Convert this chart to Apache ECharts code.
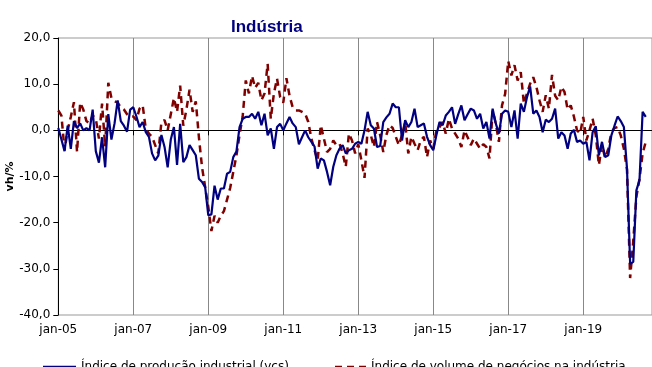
<!DOCTYPE html>
<html>
<head>
<meta charset="utf-8">
<script src="https://cdn.jsdelivr.net/npm/echarts@6/dist/echarts.min.js"></script>
<style>
  html, body { margin: 0; padding: 0; background: #fff; }
  #chart { width: 652px; height: 367px; }
</style>
</head>
<body>
<div id="chart"></div>
<script>
// meses (jan-05 ... nov-20), eixo em categorias
var monthNames = ['jan', 'fev', 'mar', 'abr', 'mai', 'jun', 'jul', 'ago', 'set', 'out', 'nov', 'dez'];
var firstYear = 2005;
var monthCount = 191;

var yTicks = [-40, -30, -20, -10, 0, 10, 20];

var seriesNames = ['Índice de produção industrial (vcs)', 'Índice de volume de negócios na indústria'];

// vh/% , jan-05 a set-20
var producao = [
  0.5, -2, -4.5, 1, -4, 2, 0.5, 1.5, 0, 0.5, 0, 4.5,
  -4.5, -7, -1.5, -8, 3.5, -2, 1.5, 6.5, 2, 1, -0.3, 4.5,
  5, 3, 0.7, 1.8, -0.4, -1.4, -5, -6.5, -5.5, -1, -3.6, -8,
  -2, 0.7, -7.5, 1.4, -6.9, -5.8, -3.2, -4.3, -5.4, -10.5, -11.2, -12.3,
  -18.4, -18.2, -12, -15, -12.6, -12.6, -9.4, -9, -5.8, -4.6, 0.7, 2.5,
  2.9, 2.9, 3.6, 2.5, 4, 1.1, 3.6, -1.1, 0.4, -4, 0.7, 1.4,
  0, 1.5, 2.9, 1.5, 0.7, -3, -1.5, 0, -1.5, -2.5, -3.5, -8.3,
  -6.1, -6.5, -9, -11.9, -7.9, -5.4, -4, -3.2, -5, -4.3, -4, -2.9,
  -2.5, -2.9, 0, 4, 1.1, 0.4, -3.6, -3.4, 1.8, 2.8, 3.6, 5.8,
  5, 5, -2.2, 2.2, 0.7, 1.8, 4.7, 0.7, 1.1, 1.5, -1.4, -3.2,
  -4.3, -1, 1.8, 1.1, 3.2, 4, 5, 1.4, 3.5, 5.4, 2.2, 3.5,
  4.7, 4.3, 2.5, 3.6, 0.4, 1.8, -1.8, 4.7, 1.5, -0.7, 3.6, 4.3,
  4, 0.7, 4.3, -1.8, 5.8, 4, 7.2, 9.5, 3.6, 4.3, 2.9, -0.4,
  2.3, 1.8, 2.5, 4.7, -1.8, -0.4, -1.1, -4, -0.7, 0.1, -2.5, -2.2,
  -2.9, -2.5, -6.5, -0.4, 0.9, -5.4, -2.5, -5.8, -5.4, -1.1, 1, 3,
  2, 0.7, -8.3, -28.9, -28.5, -13, -10.8, 4, 2.9
];

var negocios = [
  4.3, 3.2, -4.3, 0, 2.9, 6.1, -4.7, 6, 4.5, 2, 1.5, 3.2,
  2.5, -1.8, 5.8, -3.5, 10.3, 7, 6.3, 6, 5, 4.5, 3.5, 3,
  3, 2.2, 4.7, 5.4, 0.3, -0.7, -1.4, -3.2, -5, 1.8, 2.2, 0,
  3.5, 7, 4, 9.7, 1, 4.5, 8.8, 4, 6.3, -1.5, -8, -12.3,
  -16.6, -21.8, -18.5, -20, -18.5, -17.5, -15, -12.5, -9, -5.5, -1, 3,
  10.8, 8, 11.8, 9.2, 10.3, 6.5, 8, 14.4, 2.5, 8, 11.2, 7.2,
  6, 11.3, 7.5, 5, 4.3, 4.3, 4, 3.6, 1.8, -1.8, -4.3, -6.5,
  1.1, -1.8, -4.7, -4, -2.2, -3.2, -2.9, -5, -7.9, -0.7, -2.2, -5,
  -3, -6.5, -10.3, 0.4, -1, -3.6, 1.8, -1, -4.7, -1, 1.1, 0.5,
  -1.4, -3.2, -1, 1.8, -5, -1.4, -2.9, -4.3, -2.2, -1.4, -5.8, -2.2,
  -4, 0, 0.7, 1.8, -0.7, 2.5, 0.4, -0.7, -1.8, -3.6, 0, -1.5,
  -3.2, -1.8, -2.9, -4, -3, -3.6, -6.1, 4.3, 1.5, -2.5, 5.4, 7.9,
  15, 11.9, 14.1, 10.8, 12.6, 5.8, 8, 10.1, 11.5, 9.4, 6.5, 4,
  7.6, 4.7, 12, 7.5, 6.5, 9.4, 8.3, 4.5, 5.4, 3, 0, -0.7,
  2.9, -2.2, 0, 2.5, -1, -7.5, -3.2, -6, -4, -0.4, 0.5, 0.7,
  -1.1, -4, -8.5, -32, -24, -14.4, -10.5, -5, -2.5
];

var categories = [];
for (var i = 0; i < monthCount; i++) {
  var yy = String((firstYear + Math.floor(i / 12)) % 100).padStart(2, '0');
  categories.push(monthNames[i % 12] + '-' + yy);
}

// só jan dos anos ímpares
function everyTwoYears(idx) {
  return idx % 24 === 0;
}

var font = 'DejaVu Sans';
var myChart = echarts.init(document.getElementById('chart'));
var option = {
  animation: false,
  title: {
    text: 'Indústria',
    left: 226,
    top: 14,
    textStyle: { fontFamily: 'Liberation Sans', fontWeight: 'bold', fontSize: 17, color: '#000080' }
  },
  grid: {
    left: 58.3,
    right: 0,
    top: 38,
    bottom: 52,
    containLabel: false,
    outerBoundsMode: 'none',
    show: true,
    borderColor: '#999',
    borderWidth: 1
  },
  legend: [
    {
      data: [seriesNames[0]],
      left: 38,
      top: 356,
      icon: 'path://M0,0h33v2.5h-33z',
      itemWidth: 33,
      itemHeight: 2.5,
      textStyle: { fontFamily: font, fontSize: 12, color: '#000' }
    },
    {
      data: [seriesNames[1]],
      left: 330,
      top: 356,
      icon: 'path://M0,0h7v2.5h-7zM12,0h7v2.5h-7zM24,0h7v2.5h-7z',
      itemWidth: 31,
      itemHeight: 2.5,
      textStyle: { fontFamily: font, fontSize: 12, color: '#000' }
    }
  ],
  xAxis: {
    type: 'category',
    data: categories,
    boundaryGap: false,
    axisLine: { lineStyle: { color: '#000', width: 1 } },
    axisTick: { show: true, interval: everyTwoYears, length: 5, lineStyle: { color: '#000' } },
    axisLabel: {
      interval: everyTwoYears,
      fontFamily: font,
      fontSize: 12,
      color: '#000',
      margin: 9
    },
    splitLine: { show: true, interval: everyTwoYears, lineStyle: { color: '#888', width: 1 } }
  },
  yAxis: {
    type: 'value',
    min: yTicks[0],
    max: yTicks[yTicks.length - 1],
    interval: 10,
    name: 'vh/%',
    nameLocation: 'middle',
    nameGap: 43,
    nameMoveOverlap: false,
    nameTextStyle: { fontFamily: font, fontSize: 11, fontWeight: 'bold', color: '#000' },
    axisLine: { show: true, lineStyle: { color: '#000', width: 1 } },
    axisTick: { show: true, length: 5, lineStyle: { color: '#000' } },
    axisLabel: {
      fontFamily: font,
      fontSize: 12,
      color: '#000',
      margin: 8,
      formatter: function (v) { return v.toFixed(1).replace('.', ','); }
    },
    splitLine: { show: false }
  },
  series: [
    {
      name: seriesNames[0],
      type: 'line',
      data: producao,
      symbol: 'none',
      z: 3,
      lineStyle: { color: '#000080', width: 2.2 },
      itemStyle: { color: '#000080' }
    },
    {
      name: seriesNames[1],
      type: 'line',
      data: negocios,
      symbol: 'none',
      z: 2,
      lineStyle: { color: '#800000', width: 2.5, type: [7, 5] },
      itemStyle: { color: '#800000' }
    }
  ]
};
myChart.setOption(option);
</script>
</body>
</html>
